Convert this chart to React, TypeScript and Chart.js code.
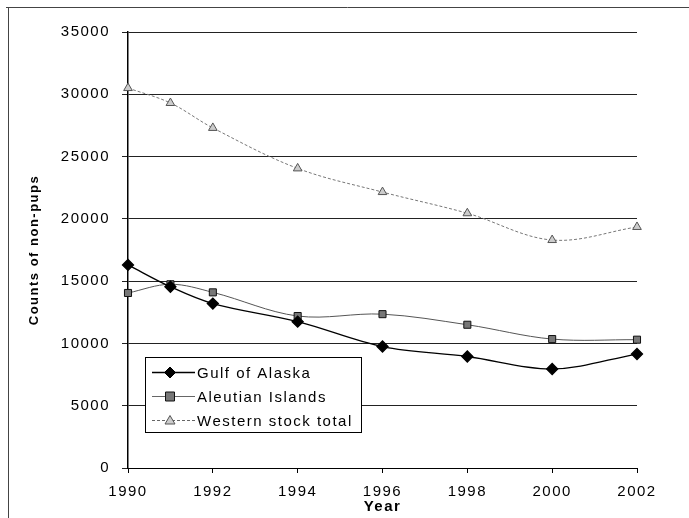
import React, { useEffect, useRef } from 'react';
import { Chart, registerables } from 'chart.js';

Chart.register(...registerables);

const years = [1990, 1991, 1992, 1994, 1996, 1998, 2000, 2002];
const gulfOfAlaska = [16300, 14550, 13200, 11750, 9750, 8950, 7950, 9150];
const aleutianIslands = [14050, 14750, 14100, 12200, 12350, 11500, 10350, 10300];
const westernStockTotal = [30500, 29300, 27300, 24050, 22150, 20450, 18300, 19350];
const seriesNames = ['Gulf of Alaska', 'Aleutian Islands', 'Western stock total'];
const xTickValues = [1990, 1992, 1994, 1996, 1998, 2000, 2002];
const yTickValues = [0, 5000, 10000, 15000, 20000, 25000, 30000, 35000];
const xTitle = 'Year';
const yTitle = 'Counts of non-pups';

const FONT = "'Liberation Sans', Arial, sans-serif";

function drawMarker(ctx: CanvasRenderingContext2D, kind: number, x: number, y: number) {
  ctx.save();
  ctx.lineWidth = 1;
  ctx.beginPath();
  if (kind === 0) {
    const r = 5.5;
    ctx.moveTo(x, y - r);
    ctx.lineTo(x + r, y);
    ctx.lineTo(x, y + r);
    ctx.lineTo(x - r, y);
    ctx.closePath();
    ctx.fillStyle = '#000';
    ctx.strokeStyle = '#000';
  } else if (kind === 1) {
    const r = 4.5;
    ctx.rect(x - r, y - r, 2 * r, 2 * r);
    ctx.fillStyle = '#777';
    ctx.strokeStyle = '#111';
  } else {
    const r = 5;
    ctx.moveTo(x, y - r);
    ctx.lineTo(x + r, y + r * 0.7);
    ctx.lineTo(x - r, y + r * 0.7);
    ctx.closePath();
    ctx.fillStyle = '#ccc';
    ctx.strokeStyle = '#555';
  }
  ctx.fill();
  ctx.stroke();
  ctx.restore();
}

const spacingPlugin = {
  id: 'spacing',
  beforeLayout(chart: any) {
    chart.ctx.letterSpacing = '1.5px';
  },
  beforeDraw(chart: any) {
    const ctx = chart.ctx;
    ctx.letterSpacing = '1.5px';
    ctx.save();
    ctx.strokeStyle = '#444';
    ctx.lineWidth = 1;
    ctx.beginPath();
    ctx.moveTo(6, 7.5);
    ctx.lineTo(689, 7.5);
    ctx.moveTo(8.5, 7);
    ctx.lineTo(8.5, 518);
    ctx.stroke();
    ctx.restore();
  },
};

const legendPlugin = {
  id: 'boxLegend',
  afterDraw(chart: any) {
    const ctx: CanvasRenderingContext2D = chart.ctx;
    const ca = chart.chartArea;
    const left = ca.left + 17;
    const top = 357.5;
    const width = 216;
    const height = 75;
    ctx.save();
    ctx.fillStyle = '#fff';
    ctx.fillRect(left, top, width, height);
    ctx.strokeStyle = '#000';
    ctx.lineWidth = 1;
    ctx.strokeRect(left + 0.5, top, width, height);
    const styles = [
      { color: '#000', width: 1.3, dash: [] as number[] },
      { color: '#666', width: 1, dash: [] as number[] },
      { color: '#666', width: 1, dash: [3, 2] },
    ];
    ctx.font = `15px ${FONT}`;
    (ctx as any).letterSpacing = '1.5px';
    ctx.textBaseline = 'middle';
    ctx.textAlign = 'left';
    for (let i = 0; i < seriesNames.length; i++) {
      const y = top + 15 + i * 24;
      ctx.save();
      ctx.strokeStyle = styles[i].color;
      ctx.lineWidth = styles[i].width;
      ctx.setLineDash(styles[i].dash);
      ctx.beginPath();
      ctx.moveTo(left + 7, y);
      ctx.lineTo(left + 50, y);
      ctx.stroke();
      ctx.restore();
      drawMarker(ctx, i, left + 25, y);
      ctx.fillStyle = '#000';
      ctx.fillText(seriesNames[i], left + 52, y + 1);
    }
    ctx.restore();
  },
};

export default function App() {
  const ref = useRef<HTMLCanvasElement | null>(null);
  useEffect(() => {
    if (!ref.current) return;
    const mk = (data: number[]) => data.map((v, i) => ({ x: years[i], y: v }));
    const chart = new Chart(ref.current, {
      type: 'line',
      data: {
        datasets: [
          {
            label: seriesNames[0],
            data: mk(gulfOfAlaska),
            borderColor: '#000',
            borderWidth: 1.3,
            pointStyle: 'rectRot',
            pointRadius: 5.5,
            pointBackgroundColor: '#000',
            pointBorderColor: '#000',
            tension: 0.35,
          },
          {
            label: seriesNames[1],
            data: mk(aleutianIslands),
            borderColor: '#555',
            borderWidth: 1,
            pointStyle: 'rect',
            pointRadius: 5,
            pointBackgroundColor: '#777',
            pointBorderColor: '#111',
            pointBorderWidth: 1,
            tension: 0.35,
          },
          {
            label: seriesNames[2],
            data: mk(westernStockTotal),
            borderColor: '#777',
            borderWidth: 1,
            borderDash: [3, 2],
            pointStyle: 'triangle',
            pointRadius: 5,
            pointBackgroundColor: '#ccc',
            pointBorderColor: '#555',
            pointBorderWidth: 1,
            tension: 0.35,
          },
        ],
      },
      options: {
        animation: false,
        responsive: false,
        devicePixelRatio: 1,
        clip: false as any,
        layout: { padding: { left: 0, top: 32, right: 52, bottom: 0 } },
        plugins: { legend: { display: false }, tooltip: { enabled: false } },
        scales: {
          x: {
            type: 'linear',
            min: 1990,
            max: 2002,
            afterFit: (s: any) => { s.height = 50; },
            afterBuildTicks: (s: any) => { s.ticks = xTickValues.map((v) => ({ value: v })); },
            grid: { display: true, drawOnChartArea: false, drawTicks: true, tickLength: 5, color: '#000' },
            border: { display: true, color: '#000', width: 1 },
            ticks: {
              color: '#000',
              padding: 10,
              maxRotation: 0,
              font: { family: FONT, size: 15 },
              callback: (v: any) => String(v),
            },
            title: {
              display: true,
              text: xTitle,
              color: '#000',
              font: { family: FONT, size: 15, weight: 'bold' },
              padding: { top: 0, bottom: 2 },
            },
          },
          y: {
            min: 0,
            max: 35000,
            afterFit: (s: any) => { s.width = 128; },
            afterBuildTicks: (s: any) => { s.ticks = yTickValues.map((v) => ({ value: v })); },
            grid: { display: true, drawTicks: true, tickLength: 6, color: '#222', lineWidth: 1 },
            border: { display: true, color: '#000', width: 1.5 },
            ticks: {
              color: '#000',
              padding: 12,
              font: { family: FONT, size: 15 },
              callback: (v: any) => String(v),
            },
            title: {
              display: true,
              text: yTitle,
              color: '#000',
              font: { family: FONT, size: 13, weight: 'bold' },
              padding: { top: 27, bottom: 0 },
            },
          },
        },
      },
      plugins: [spacingPlugin, legendPlugin],
    });
    return () => chart.destroy();
  }, []);
  return (
    <div style={{ position: 'absolute', left: 0, top: 0, width: 689, height: 518, background: '#fff' }}>
      <canvas ref={ref} width={689} height={518} style={{ display: 'block', width: 689, height: 518 }} />
    </div>
  );
}
